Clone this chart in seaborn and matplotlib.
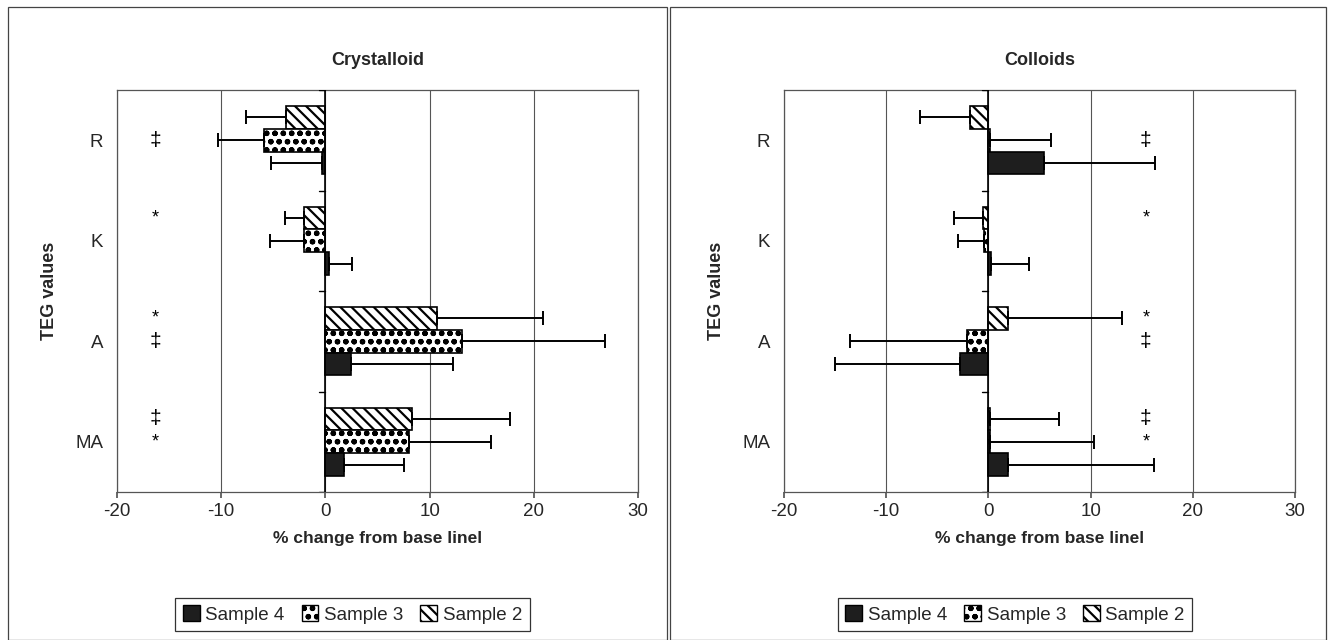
import matplotlib
matplotlib.use("Agg")
import matplotlib.pyplot as plt
import numpy as np
import pandas as pd
import seaborn as sns
from matplotlib.patches import Patch, Rectangle

sns.set_theme(style="white")
plt.rcParams['font.family'] = ['Liberation Sans', 'DejaVu Sans']
plt.rcParams['hatch.linewidth'] = 1.6
plt.rcParams['axes.unicode_minus'] = False

params  = ['R', 'K', 'A', 'MA']                      # top to bottom
samples = ['Sample 2', 'Sample 3', 'Sample 4']       # top to bottom within a group

# % change from base line, order = params, one list per sample
cryst_s2 = [-3.8, -2.1, 10.7, 8.3]
cryst_s3 = [-5.9, -2.1, 13.1, 8.0]
cryst_s4 = [-0.3, 0.3, 2.5, 1.8]
cryst_e2 = [3.8, 1.8, 10.2, 9.4]
cryst_e3 = [4.4, 3.2, 13.7, 7.9]
cryst_e4 = [4.9, 2.3, 9.7, 5.7]

coll_s2 = [-1.8, -0.5, 1.9, 0.2]
coll_s3 = [0.2, -0.4, -2.1, 0.2]
coll_s4 = [5.4, 0.3, -2.8, 1.9]
coll_e2 = [4.9, 2.9, 11.2, 6.7]
coll_e3 = [5.9, 2.6, 11.4, 10.1]
coll_e4 = [10.9, 3.7, 12.2, 14.3]

# significance marks: (parameter, sample row, symbol)
cryst_marks = [('R', 'Sample 3', '‡'), ('K', 'Sample 2', '*'), ('A', 'Sample 2', '*'),
               ('A', 'Sample 3', '‡'), ('MA', 'Sample 2', '‡'), ('MA', 'Sample 3', '*')]
coll_marks = [('R', 'Sample 3', '‡'), ('K', 'Sample 2', '*'), ('A', 'Sample 2', '*'),
              ('A', 'Sample 3', '‡'), ('MA', 'Sample 2', '‡'), ('MA', 'Sample 3', '*')]
cryst_mark_x = -16.3
coll_mark_x = 15.4

styles = {
    'Sample 2': dict(facecolor='white', hatch='\\\\\\'),
    'Sample 3': dict(facecolor='white', hatch='oo'),
    'Sample 4': dict(facecolor='#1e1e1e', hatch=''),
}


def make_df(s2, s3, s4, e2, e3, e4):
    rows = []
    for smp, vals, errs in [('Sample 2', s2, e2), ('Sample 3', s3, e3), ('Sample 4', s4, e4)]:
        for p, v, e in zip(params, vals, errs):
            rows.append(dict(param=p, sample=smp, value=v, err=e))
    return pd.DataFrame(rows)


def draw_panel(ax, df, title, marks, mark_x):
    sns.barplot(data=df, y='param', x='value', hue='sample', order=params,
                hue_order=samples, orient='h', errorbar=None, width=0.68,
                ax=ax, legend=False, edgecolor='black', linewidth=1.2)
    bar_y = {}
    for smp, cont in zip(samples, ax.containers):
        st = styles[smp]
        sub = df[df['sample'] == smp].set_index('param').loc[params]
        for p, patch in zip(params, cont.patches):
            patch.set_facecolor(st['facecolor'])
            patch.set_hatch(st['hatch'])
            patch.set_edgecolor('black')
            yc = patch.get_y() + patch.get_height() / 2
            bar_y[(p, smp)] = yc
            v = sub.loc[p, 'value']
            e = sub.loc[p, 'err']
            lo = [e] if v < 0 else [0]
            hi = [e] if v >= 0 else [0]
            ax.errorbar([v], [yc], xerr=[lo, hi], fmt='none', ecolor='black',
                        elinewidth=1.4, capsize=5, capthick=1.4, zorder=4)
    for p, smp, sym in marks:
        ax.text(mark_x, bar_y[(p, smp)], sym, ha='center', va='center',
                fontsize=15 if sym == '‡' else 13, color='black')

    ax.set_xlim(-20, 30)
    ax.set_ylim(len(params) - 0.5, -0.5)
    ax.set_xticks([-20, -10, 0, 10, 20, 30])
    ax.xaxis.grid(True, color='#555555', linewidth=0.8)
    ax.set_axisbelow(True)
    ax.axvline(0, color='black', linewidth=1.2, zorder=3)
    # category boundary ticks on the zero axis
    for b in np.arange(-0.5, len(params) + 0.5, 1.0):
        ax.plot([-0.6, 0], [b, b], color='black', linewidth=1, zorder=3)
    ax.tick_params(axis='x', length=4, labelsize=13.5, pad=4, bottom=True, color='#555555')
    ax.tick_params(axis='y', length=0, labelsize=13.5, pad=10)
    for s in ax.spines.values():
        s.set_color('#555555')
        s.set_linewidth(0.9)
    ax.set_title(title, fontsize=13, fontweight='bold', pad=18)
    ax.set_xlabel('% change from base linel', fontsize=12.5, fontweight='bold', labelpad=8)
    ax.set_ylabel('TEG values', fontsize=13, fontweight='bold', labelpad=12)

    handles = [Patch(facecolor=styles[s]['facecolor'], hatch=styles[s]['hatch'],
                     edgecolor='black', label=s) for s in ['Sample 4', 'Sample 3', 'Sample 2']]
    leg = ax.legend(handles=handles, loc='upper center', bbox_to_anchor=(0.452, -0.24),
                    ncol=3, frameon=True, fancybox=False, fontsize=13.5,
                    handlelength=0.9, handleheight=0.9, handletextpad=0.3,
                    columnspacing=0.9, borderpad=0.4)
    leg.get_frame().set_edgecolor('black')
    leg.get_frame().set_linewidth(0.9)


fig = plt.figure(figsize=(13.31, 6.4), dpi=100)
ax1 = fig.add_axes([117 / 1331, 1 - 492 / 640, 521 / 1331, 402 / 640])
ax2 = fig.add_axes([784 / 1331, 1 - 492 / 640, 511 / 1331, 402 / 640])

draw_panel(ax1, make_df(cryst_s2, cryst_s3, cryst_s4, cryst_e2, cryst_e3, cryst_e4),
           'Crystalloid', cryst_marks, cryst_mark_x)
draw_panel(ax2, make_df(coll_s2, coll_s3, coll_s4, coll_e2, coll_e3, coll_e4),
           'Colloids', coll_marks, coll_mark_x)

# chart-area frames
for x0, x1 in [(8, 667), (670, 1326)]:
    fig.patches.append(Rectangle((x0 / 1331, 0), (x1 - x0) / 1331, 1 - 7 / 640,
                                 transform=fig.transFigure, fill=False,
                                 edgecolor='#444444', linewidth=0.9))

fig.savefig('out.png', dpi=100)
